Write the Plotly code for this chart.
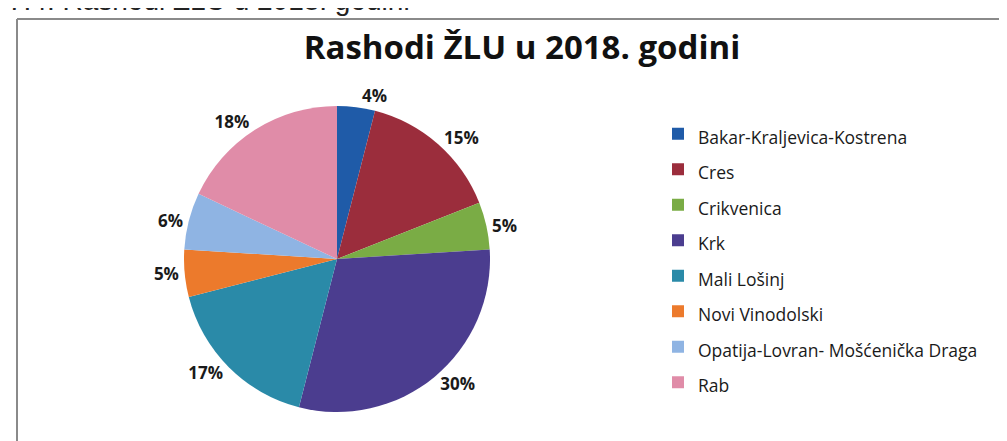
import plotly.graph_objects as go

# Rashodi ZLU 2018 - share per area (percent)
areas = [
    "Bakar-Kraljevica-Kostrena",
    "Cres",
    "Crikvenica",
    "Krk",
    "Mali Lošinj",
    "Novi Vinodolski",
    "Opatija-Lovran- Mošćenička Draga",
    "Rab",
]
shares = [4, 15, 5, 30, 17, 5, 6, 18]
colors = ["#1f5ba8", "#9b2d3c", "#7aac45", "#4b3d8f", "#2a8aa8", "#ec7a2c", "#8fb4e3", "#e08ca8"]

title_text = "Rashodi ŽLU u 2018. godini"
caption_text = "7.4. Rashodi ŽLU u 2018. godini"

W, H = 1007, 441

# legend font is big only to get the row spacing; the label itself is 17px
legend_labels = ['<span style="font-size:17.5px">%s</span>' % a for a in areas]

fig = go.Figure(go.Pie(
    labels=legend_labels,
    values=shares,
    sort=False,
    direction="clockwise",
    rotation=0,
    marker=dict(colors=colors, line=dict(color="white", width=0)),
    texttemplate="%{percent:.0%}",
    textposition="outside",
    outsidetextfont=dict(family="Open Sans", size=17, color="#1a1a1a", weight=700),
    domain=dict(x=[176 / W, 482 / W], y=[1 - 404 / H, 1 - 98 / H]),
    hovertext=areas,
    hoverinfo="text+percent",
))

fig.update_layout(
    width=W,
    height=H,
    margin=dict(l=0, r=0, t=0, b=0),
    paper_bgcolor="white",
    font=dict(family="Open Sans", color="#222"),
    title=dict(
        text="<b>%s</b>" % title_text,
        x=514 / W, xanchor="center",
        y=1 - 39 / H, yanchor="middle",
        font=dict(family="Open Sans", size=33, color="#111"),
    ),
    showlegend=True,
    legend=dict(
        x=650 / W, xanchor="left",
        y=1 - 103 / H, yanchor="top",
        font=dict(family="Open Sans", size=25, color="#1a1a1a"),
        bgcolor="rgba(0,0,0,0)",
    ),
    shapes=[
        # chart frame from the scanned page
        dict(type="line", xref="paper", yref="paper",
             x0=9 / W, x1=1.0, y0=1 - 11 / H, y1=1 - 11 / H,
             line=dict(color="#8a8a8a", width=2)),
        dict(type="line", xref="paper", yref="paper",
             x0=9 / W, x1=9 / W, y0=0, y1=1 - 11 / H,
             line=dict(color="#8a8a8a", width=2)),
    ],
    annotations=[
        # caption above the frame, cut off by the top of the scan
        dict(text=caption_text, xref="paper", yref="paper",
             x=-2 / W, xanchor="left", y=1 - 10 / H, yanchor="bottom",
             showarrow=False,
             font=dict(family="Liberation Sans", size=28, color="#222")),
    ],
)

fig.write_html("out.html")
